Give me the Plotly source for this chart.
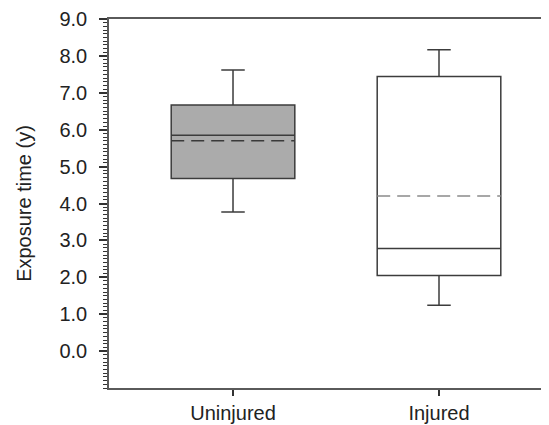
import plotly.graph_objects as go

categories = ["Uninjured", "Injured"]
lower_whisker = [3.77, 1.24]
q1 = [4.68, 2.05]
median = [5.85, 2.78]
q3 = [6.67, 7.44]
upper_whisker = [7.62, 8.17]
mean = [5.70, 4.20]
fill_colors = ["#ababab", "#ffffff"]
mean_colors = ["#3a3a3a", "#8a8a8a"]
y_tick_values = [0, 1, 2, 3, 4, 5, 6, 7, 8, 9]

positions = list(range(len(categories)))
box_width = 0.6

fig = go.Figure()
for i, cat in enumerate(categories):
    fig.add_trace(go.Box(
        x=[positions[i]], q1=[q1[i]], median=[median[i]], q3=[q3[i]],
        lowerfence=[lower_whisker[i]], upperfence=[upper_whisker[i]],
        width=box_width, whiskerwidth=0.19,
        fillcolor=fill_colors[i],
        line=dict(color="#3c3c3c", width=1.5),
        boxpoints=False, showlegend=False, name=cat, hoverinfo="skip",
    ))
    fig.add_trace(go.Scatter(
        x=[positions[i] - box_width / 2, positions[i] + box_width / 2],
        y=[mean[i], mean[i]], mode="lines",
        line=dict(color=mean_colors[i], width=1.5, dash="13px,7px"),
        showlegend=False, hoverinfo="skip",
    ))

# The page body has an 8px default margin, so the figure is sized/offset for it.
fig.update_layout(
    width=541, height=417,
    margin=dict(l=101, r=0, t=11, b=37),
    paper_bgcolor="white", plot_bgcolor="white",
    font=dict(family="Liberation Sans, Arial, sans-serif", color="#222222"),
    showlegend=False,
)
fig.update_xaxes(
    range=[-0.602, 1.534], tickmode="array", tickvals=positions, ticktext=categories,
    showline=True, linecolor="#5a5a5a", linewidth=1.5, mirror=True,
    ticks="outside", ticklen=6, tickwidth=1.5, tickcolor="#333333",
    tickfont=dict(size=20), ticklabelstandoff=0, automargin=False,
    showgrid=False, zeroline=False,
)
fig.update_yaxes(
    range=[-1, 9], tickmode="array", tickvals=y_tick_values,
    ticktext=[f"{v:.1f}" for v in y_tick_values],
    showline=True, linecolor="#5a5a5a", linewidth=1.5,
    ticks="outside", ticklen=8, tickwidth=1.5, tickcolor="#333333",
    tickfont=dict(size=20), ticklabelstandoff=8, automargin=False,
    minor=dict(ticks="outside", dtick=0.1, tick0=0, ticklen=4, tickwidth=1, tickcolor="#333333", showgrid=False),
    showgrid=False, zeroline=False,
    title=dict(text="Exposure time (y)", font=dict(size=20), standoff=22),
)

fig.write_html("out.html")
